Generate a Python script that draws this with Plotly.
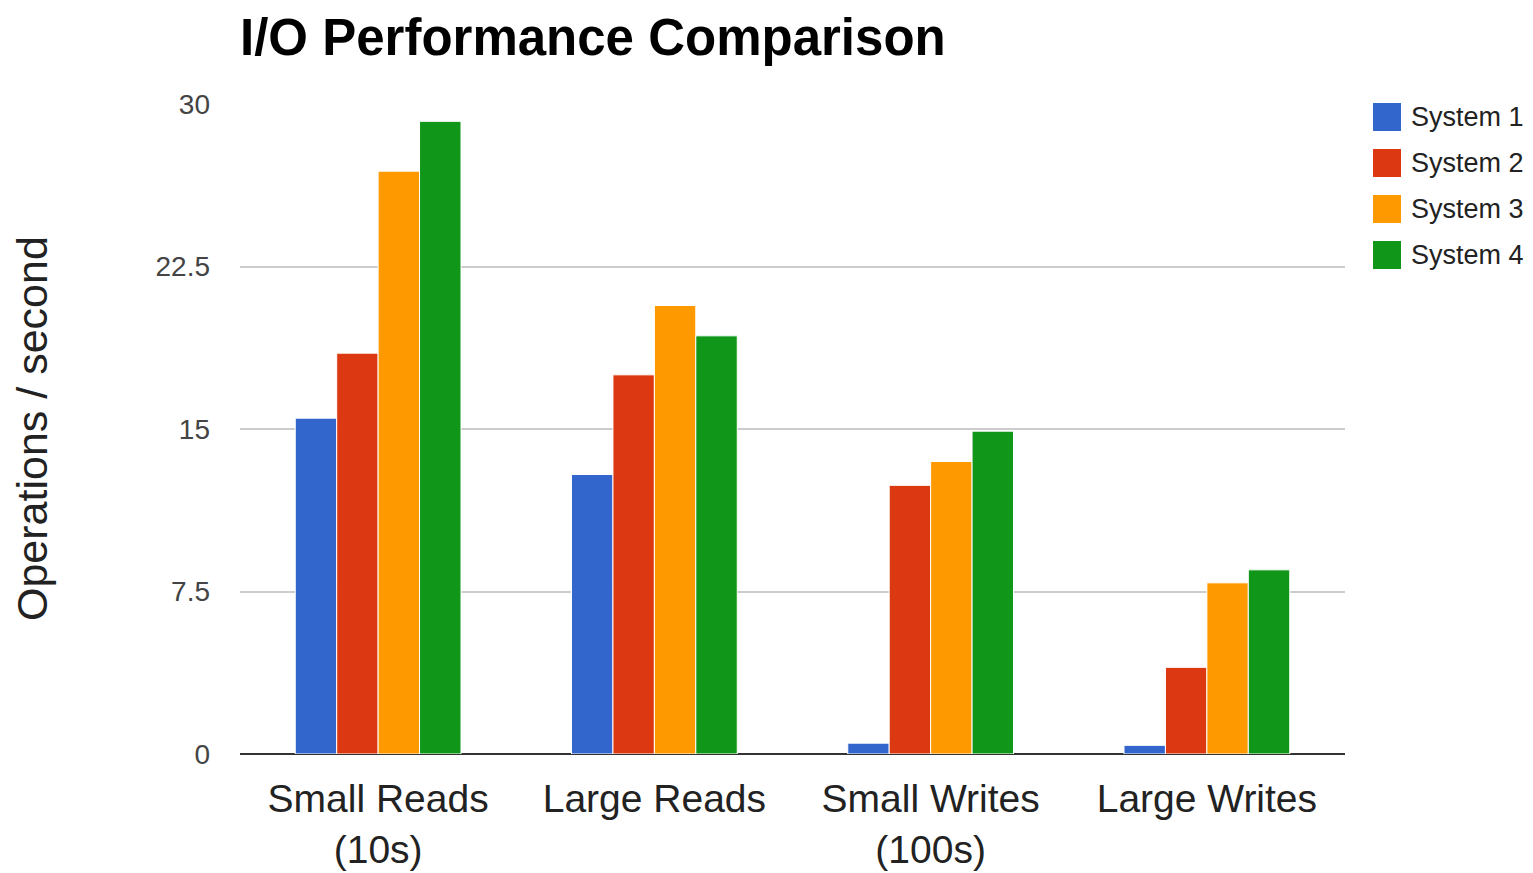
import plotly.graph_objects as go

categories = ["Small Reads<br>(10s)", "Large Reads", "Small Writes<br>(100s)", "Large Writes"]
series_names = ["System 1", "System 2", "System 3", "System 4"]
series_values = [
    [15.5, 12.9, 0.5, 0.4],
    [18.5, 17.5, 12.4, 4.0],
    [26.9, 20.7, 13.5, 7.9],
    [29.2, 19.3, 14.9, 8.5],
]
colors = ["#3366cc", "#dc3912", "#ff9900", "#109618"]
y_tickvals = [0, 7.5, 15, 22.5, 30]
y_ticktext = ["0", "7.5", "15", "22.5", "30"]

W, H = 1533, 873
OFF = 8  # page body margin offset
L, R, T, B = 240 - OFF, 188 + OFF, 104 - OFF, 119 + OFF
pw, ph = W - L - R, H - T - B

def px_x(x):
    return (x - OFF - L) / pw

def px_y(y):
    return (H - B - (y - OFF)) / ph

FONT = "Liberation Sans, Arial, sans-serif"

fig = go.Figure()
for name, vals, c in zip(series_names, series_values, colors):
    fig.add_trace(go.Bar(x=categories, y=vals, name=name,
                         marker=dict(color=c, line=dict(color="white", width=1)),
                         showlegend=False))

shapes = []
annotations = []
for i, (name, c) in enumerate(zip(series_names, colors)):
    cy = 117 + i * 46
    shapes.append(dict(type="rect", xref="paper", yref="paper",
                       x0=px_x(1373), x1=px_x(1401), y0=px_y(cy + 14), y1=px_y(cy - 14),
                       fillcolor=c, line=dict(width=0)))
    annotations.append(dict(xref="paper", yref="paper", x=px_x(1409), y=px_y(cy),
                            text=name, showarrow=False, xanchor="left", yanchor="middle",
                            font=dict(family=FONT, size=27, color="#222222")))

annotations.append(dict(xref="paper", yref="paper", x=px_x(32), y=px_y(429),
                        text="Operations / second", textangle=-90, showarrow=False,
                        xanchor="center", yanchor="middle",
                        font=dict(family=FONT, size=43, color="#222222")))

fig.update_layout(
    width=W, height=H,
    margin=dict(l=L, r=R, t=T, b=B, autoexpand=False),
    paper_bgcolor="white", plot_bgcolor="white",
    barmode="group", bargap=0.4, bargroupgap=0,
    title=dict(text="<b>I/O Performance Comparison</b>", xref="paper", x=0, xanchor="left",
               yref="container", y=1 - (37 - OFF) / H, yanchor="middle",
               font=dict(family=FONT, size=51, color="#000000")),
    font=dict(family=FONT),
    shapes=shapes, annotations=annotations,
    showlegend=False,
)
fig.update_xaxes(showgrid=False, showline=False, ticks="",
                 tickfont=dict(family=FONT, size=39, color="#222222"),
                 ticklabelstandoff=18)
fig.update_yaxes(range=[0, 30], tickvals=y_tickvals, ticktext=y_ticktext,
                 showgrid=True, gridcolor="#cccccc", gridwidth=1.5,
                 zeroline=True, zerolinecolor="#333333", zerolinewidth=2,
                 showline=False, ticks="",
                 tickfont=dict(family=FONT, size=28, color="#444444"),
                 ticklabelstandoff=29)

fig.write_html("out.html")
